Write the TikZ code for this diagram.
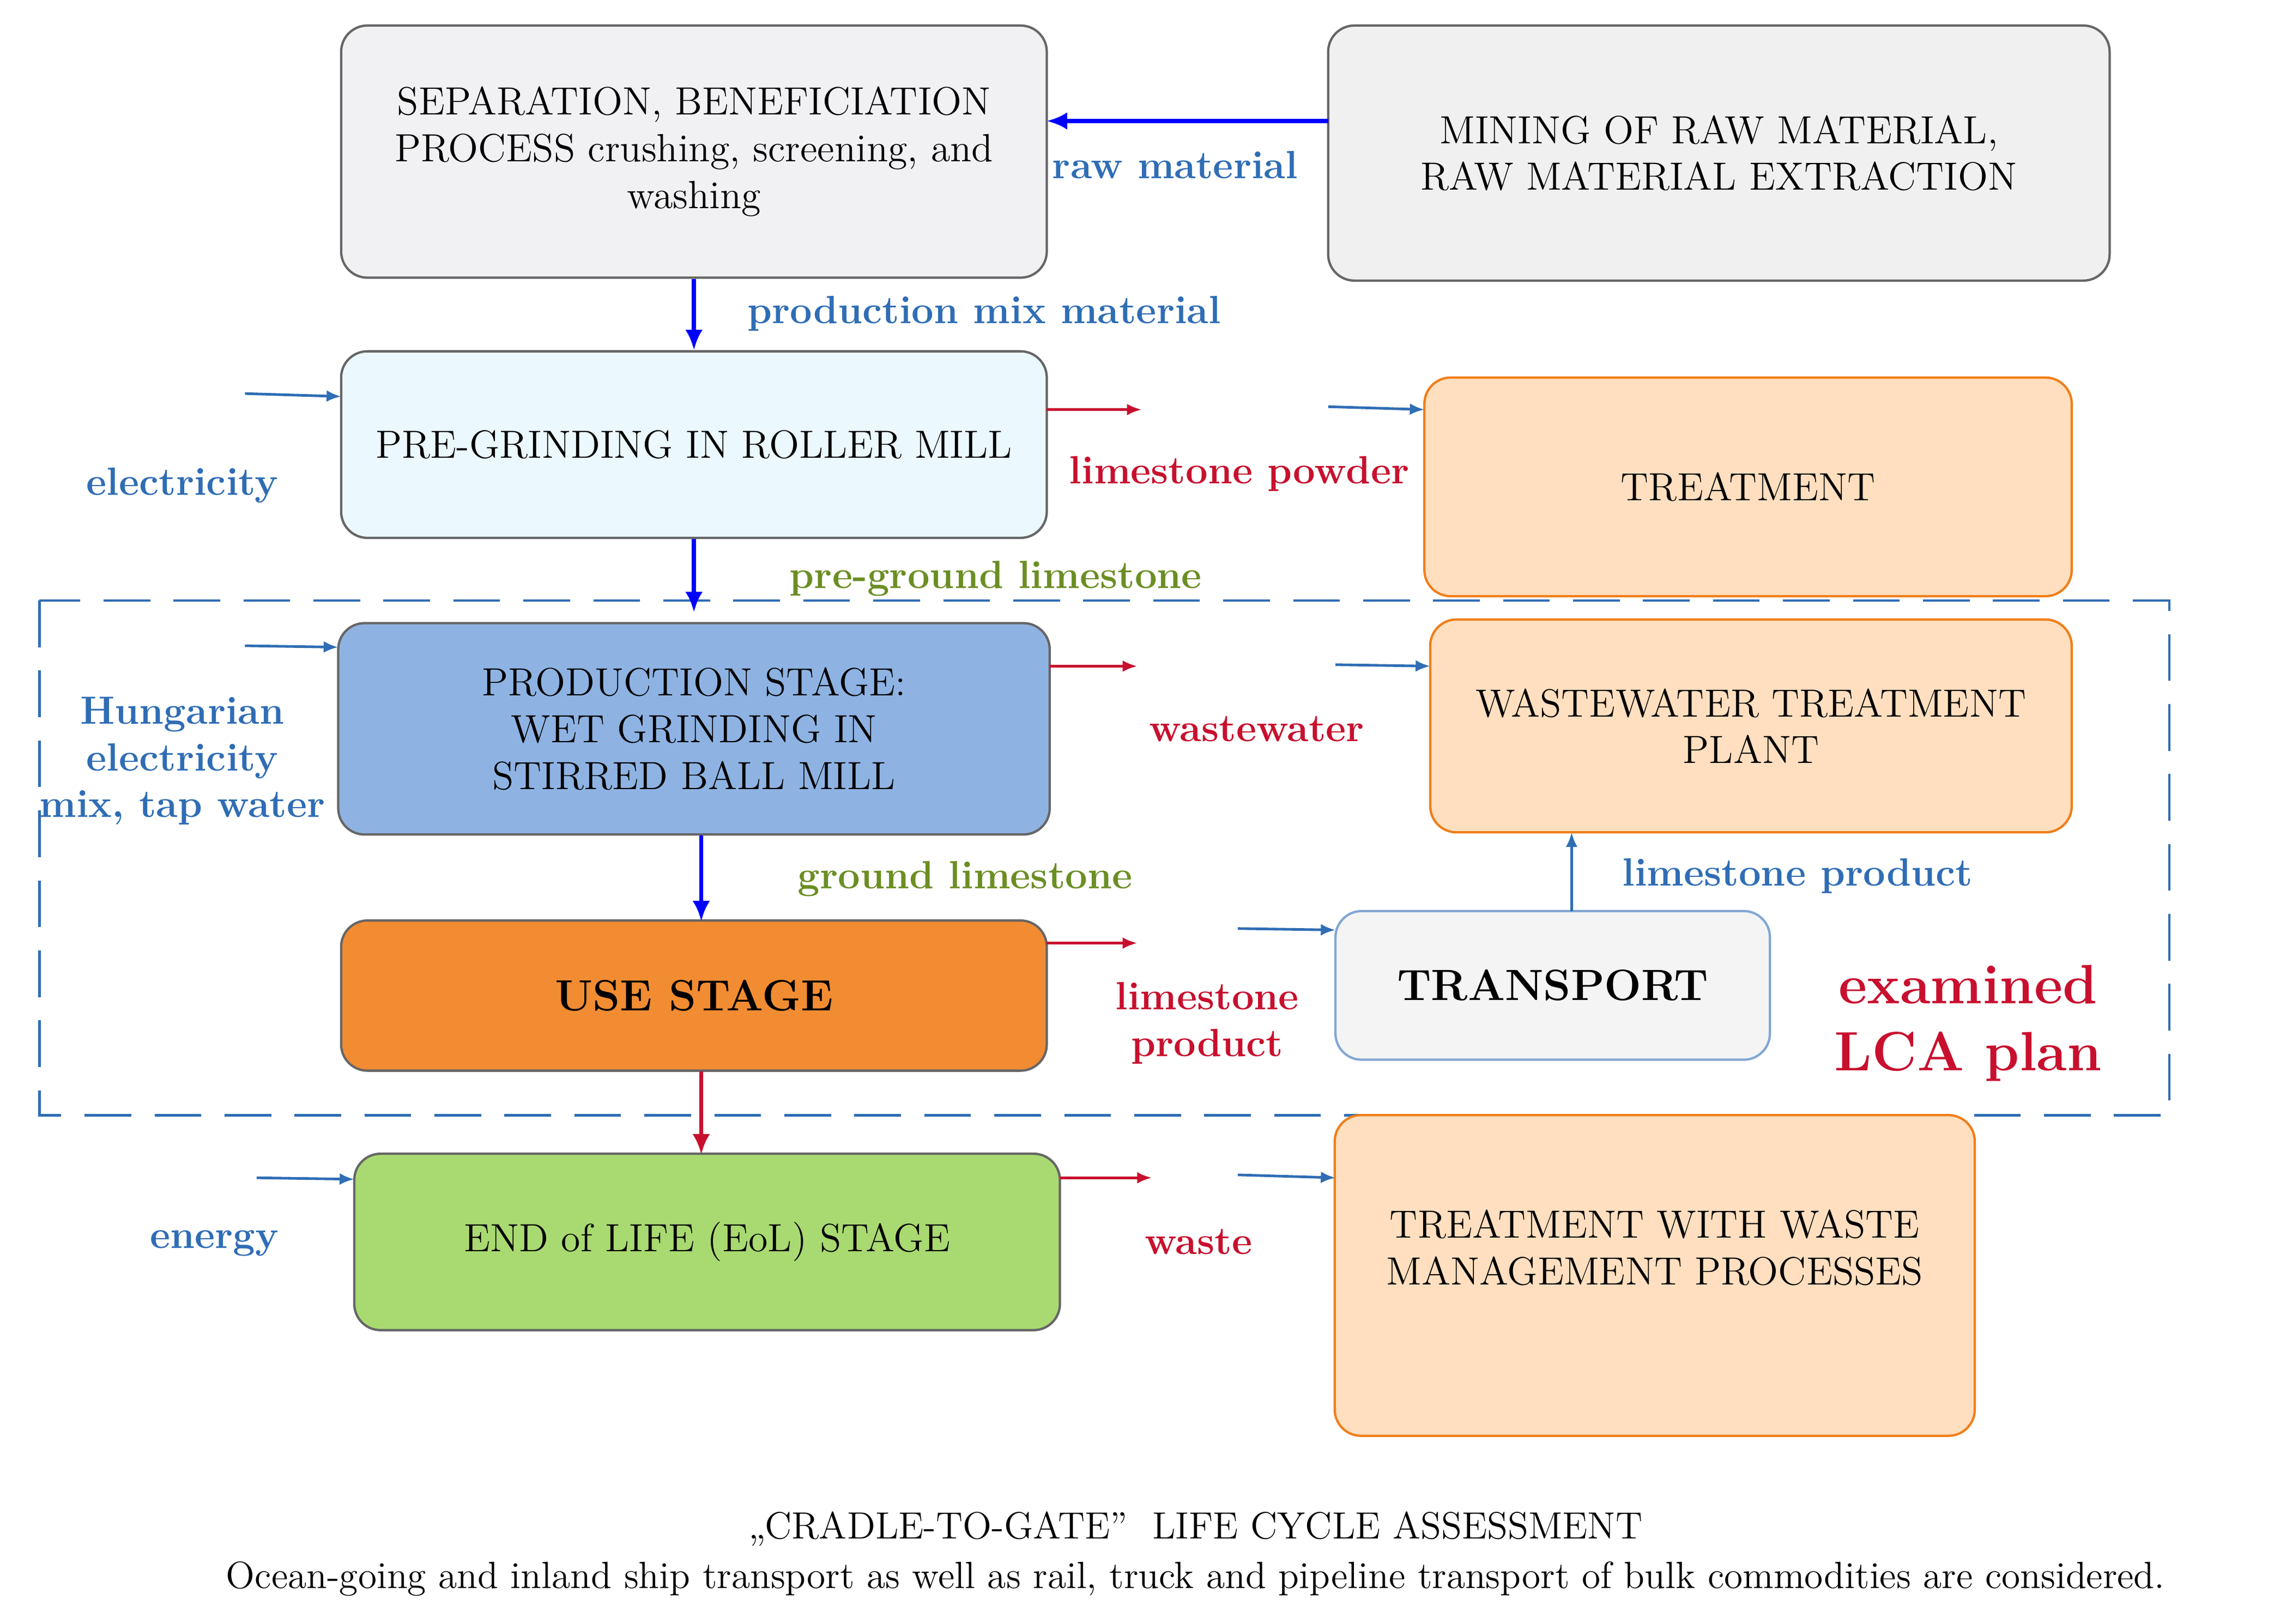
\documentclass[tikz,border=0pt]{standalone}
\usetikzlibrary{arrows.meta}
\definecolor{lblue}{HTML}{2F6DB5}
\definecolor{lred}{HTML}{C8102E}
\definecolor{lgreen}{HTML}{6B8E23}
\definecolor{orng}{HTML}{F07F1B}
\begin{document}
\begin{tikzpicture}[x=0.5pt,y=-0.5pt,
 box/.style={draw=gray!80!black,line width=0.8pt,rounded corners=9pt,align=center,font=\fontsize{13.5}{16}\selectfont,inner sep=0pt},
 obox/.style={box,draw=orng,fill=orange!25!white},
 big/.style={-{Latex[length=7pt,width=6pt]},blue,line width=1.4pt},
 sm/.style={-{Latex[length=5pt,width=4pt]},lblue,line width=0.9pt},
 smr/.style={-{Latex[length=5pt,width=4pt]},lred,line width=0.9pt},
 bl/.style={text=lblue,font=\fontsize{13.5}{16}\selectfont\bfseries,align=center},
 rl/.style={text=lred,font=\fontsize{13.5}{16}\selectfont\bfseries,align=center},
 gl/.style={text=lgreen,font=\fontsize{13.5}{16}\selectfont\bfseries,align=center}]
\useasboundingbox (0,0) rectangle (1568,1114);
\fill[white] (0,0) rectangle (1568,1114);
\draw[lblue,dashed,dash pattern=on 16pt off 8pt,line width=0.9pt] (27,412) rectangle (1488,765);
\node[box,fill=blue!6!gray!10,minimum width=242pt,minimum height=86.5pt] (sep) at (476,104) {SEPARATION, BENEFICIATION\\PROCESS crushing, screening, and\\washing};
\node[box,fill=gray!12,minimum width=268pt,minimum height=87.5pt] (min) at (1179,105) {MINING OF RAW MATERIAL,\\RAW MATERIAL EXTRACTION};
\node[box,fill=cyan!8,minimum width=242pt,minimum height=64pt] (pre) at (476,305) {PRE-GRINDING IN ROLLER MILL};
\node[obox,minimum width=222pt,minimum height=75pt] (tr) at (1199,334) {TREATMENT};
\node[box,fill=blue!25!cyan!10!white,fill={rgb,255:red,142;green,179;blue,227},minimum width=244pt,minimum height=72.5pt] (prod) at (476,500) {PRODUCTION STAGE:\\WET GRINDING IN\\STIRRED BALL MILL};
\node[obox,minimum width=220pt,minimum height=73pt] (ww) at (1201,498) {WASTEWATER TREATMENT\\PLANT};
\node[box,fill=orng!90,minimum width=242pt,minimum height=51.5pt,font=\fontsize{15}{18}\selectfont\bfseries] (use) at (476,683) {USE STAGE};
\node[box,draw=lblue!60,fill=blue!5!gray!8,minimum width=149pt,minimum height=51pt,font=\fontsize{15}{18}\selectfont\bfseries] (trn) at (1065,676) {TRANSPORT};
\node[box,fill={rgb,255:red,169;green,217;blue,113},minimum width=242pt,minimum height=60.5pt] (eol) at (485,852) {END of LIFE (EoL) STAGE};
\node[obox,minimum width=219.5pt,minimum height=110pt] (wm) at (1135,875) {};
\node[align=center,font=\fontsize{13.5}{16}\selectfont] at (1135,856) {TREATMENT WITH WASTE\\MANAGEMENT PROCESSES};
% main arrows
\draw[big] (911,83) -- (718,83);
\draw[big] (sep.south) -- (pre.north);
\draw[big] (pre.south) -- (476,420);
\draw[big] (481,573) -- (481,632);
\draw[big,lred] (481,735) -- (481,792);
\draw[sm] (1078,625) -- (1078,571);
% small arrows
\coordinate (e1) at (168,270); \draw[sm] (e1) -- (234,272);
\coordinate (e2) at (168,443); \draw[sm] (e2) -- (232,444);
\coordinate (e3) at (176,808); \draw[sm] (e3) -- (243,809);
\draw[smr] (718,281) -- (783,281);
\draw[smr] (720,457) -- (780,457);
\draw[smr] (718,647) -- (780,647);
\draw[smr] (727,808) -- (790,808);
\draw[sm] (911,279) -- (977,281);
\draw[sm] (916,456) -- (981,457);
\draw[sm] (849,637) -- (916,638);
\draw[sm] (849,806) -- (916,808);
% labels
\node[bl] at (806,113) {raw material};
\node[bl] at (675,215) {production mix material};
\node[bl] at (125,333) {electricity};
\node[rl] at (850,325) {limestone powder};
\node[gl] at (683,397) {pre-ground limestone};
\node[bl] at (125,522) {Hungarian\\electricity\\mix, tap water};
\node[rl] at (862,500) {wastewater};
\node[gl] at (662,603) {ground limestone};
\node[bl] at (1233,601) {limestone product};
\node[rl] at (828,702) {limestone\\product};
\node[text=lred,font=\fontsize{19}{23}\selectfont\bfseries,align=center] at (1350,702) {examined\\LCA plan};
\node[bl] at (147,853) {energy};
\node[rl] at (822,852) {waste};
\node[font=\fontsize{13}{15}\selectfont] at (820,1049) {„CRADLE-TO-GATE''\ \ LIFE CYCLE ASSESSMENT};
\node[font=\fontsize{13}{15}\selectfont] at (820,1083) {Ocean-going and inland ship transport as well as rail, truck and pipeline transport of bulk commodities are considered.};
\end{tikzpicture}
\end{document}
